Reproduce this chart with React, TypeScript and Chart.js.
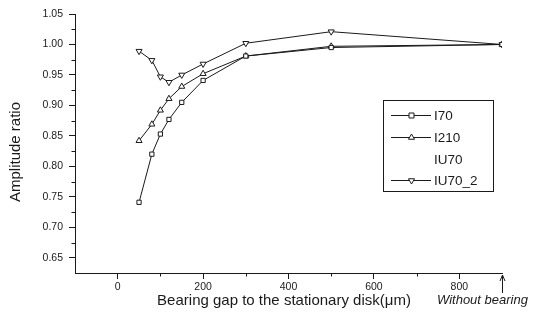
import React, { useEffect, useRef } from "react";
import { Chart, registerables } from "chart.js";

Chart.register(...registerables);

const gaps = [50, 80, 100, 120, 150, 200, 300, 500, 900];
const I70 = [0.741, 0.82, 0.853, 0.877, 0.905, 0.941, 0.981, 0.995, 1.0];
const I210 = [0.842, 0.869, 0.892, 0.911, 0.931, 0.952, 0.981, 0.997, 1.0];
const IU70: number[] = [];
const IU70_2 = [0.989, 0.974, 0.947, 0.938, 0.95, 0.968, 1.002, 1.021, 1.0];

const xTicks = [0, 200, 400, 600, 800];
const xMinorTicks = [100, 300, 500, 700];
const yTicks = [0.65, 0.7, 0.75, 0.8, 0.85, 0.9, 0.95, 1.0, 1.05];
const yMinorTicks = [0.675, 0.725, 0.775, 0.825, 0.875, 0.925, 0.975, 1.025];

const seriesNames = ["I70", "I210", "IU70", "IU70_2"];
const xTitle = "Bearing gap to the stationary disk(\u03bcm)";
const yTitle = "Amplitude ratio";
const endLabel = "Without bearing";

const INK = "#1a1a1a";
const FONT = "'Liberation Sans', Arial, sans-serif";

const pts = (ys: number[]) => ys.map((v, i) => ({ x: gaps[i], y: v }));

function marker(ctx: CanvasRenderingContext2D, style: string, rot: number, cx: number, cy: number) {
  ctx.beginPath();
  if (style === "rect") {
    ctx.rect(cx - 2.5, cy - 2.5, 5, 5);
  } else if (style === "triangle") {
    const r = 3.5;
    const s = rot === 180 ? -1 : 1;
    ctx.moveTo(cx, cy - s * r);
    ctx.lineTo(cx - r * 0.87, cy + s * r * 0.5);
    ctx.lineTo(cx + r * 0.87, cy + s * r * 0.5);
    ctx.closePath();
  }
  ctx.fillStyle = "#fff";
  ctx.fill();
  ctx.strokeStyle = INK;
  ctx.lineWidth = 1;
  ctx.stroke();
}

const overlay = {
  id: "overlay",
  afterDraw(chart: any) {
    const { ctx, chartArea, scales } = chart;
    const x = scales.x;
    const y = scales.y;
    ctx.save();
    ctx.strokeStyle = INK;
    ctx.fillStyle = INK;
    ctx.lineWidth = 1;
    yMinorTicks.forEach((v) => {
      const py = Math.round(y.getPixelForValue(v)) + 0.5;
      ctx.beginPath();
      ctx.moveTo(chartArea.left - 3.5, py);
      ctx.lineTo(chartArea.left, py);
      ctx.stroke();
    });
    xMinorTicks.forEach((v) => {
      const px = Math.round(x.getPixelForValue(v)) + 0.5;
      ctx.beginPath();
      ctx.moveTo(px, chartArea.bottom);
      ctx.lineTo(px, chartArea.bottom + 3.5);
      ctx.stroke();
    });
    const ax = Math.round(x.getPixelForValue(900)) + 0.5;
    ctx.beginPath();
    ctx.moveTo(ax, chartArea.bottom + 2);
    ctx.lineTo(ax, chartArea.bottom + 20);
    ctx.stroke();
    ctx.beginPath();
    ctx.moveTo(ax - 2.5, chartArea.bottom + 8);
    ctx.lineTo(ax, chartArea.bottom + 2);
    ctx.lineTo(ax + 2.5, chartArea.bottom + 8);
    ctx.stroke();

    ctx.font = `15px ${FONT}`;
    ctx.textAlign = "center";
    ctx.textBaseline = "middle";
    ctx.fillText(xTitle, 284, 301);
    ctx.font = `italic 13px ${FONT}`;
    ctx.textAlign = "left";
    ctx.fillText(endLabel, 437, 300);
    ctx.save();
    ctx.translate(16, 152);
    ctx.rotate(-Math.PI / 2);
    ctx.font = `15px ${FONT}`;
    ctx.textAlign = "center";
    ctx.fillText(yTitle, 0, 0);
    ctx.restore();

    const bx = 383.5, by = 100.5, bw = 110, bh = 91;
    ctx.strokeStyle = INK;
    ctx.strokeRect(bx, by, bw, bh);
    const rows = [115.5, 137.5, 159.5, 180.5];
    chart.data.datasets.forEach((ds: any, i: number) => {
      const ry = rows[i];
      if (ds.data.length) {
        ctx.beginPath();
        ctx.moveTo(391, ry);
        ctx.lineTo(431, ry);
        ctx.strokeStyle = INK;
        ctx.lineWidth = 1;
        ctx.stroke();
        marker(ctx, ds.pointStyle, ds.pointRotation || 0, 411.5, ry);
      }
      ctx.font = `13.5px ${FONT}`;
      ctx.textAlign = "left";
      ctx.textBaseline = "middle";
      ctx.fillStyle = INK;
      ctx.fillText(ds.label, 434, ry + 0.5);
    });
    ctx.restore();
  },
};

export default function App() {
  const ref = useRef<HTMLCanvasElement | null>(null);
  useEffect(() => {
    document.body.style.margin = "0";
    const canvas = ref.current!;
    const common = {
      borderColor: INK,
      backgroundColor: "#ffffff",
      borderWidth: 1,
      pointRadius: 3,
      pointBorderWidth: 1,
      pointBackgroundColor: "#ffffff",
      pointBorderColor: INK,
      tension: 0,
    };
    const chart = new Chart(canvas, {
      type: "line",
      data: {
        datasets: [
          { ...common, label: seriesNames[0], data: pts(I70), pointStyle: "rect", pointRadius: 3 },
          { ...common, label: seriesNames[1], data: pts(I210), pointStyle: "triangle", pointRadius: 3.5 },
          { ...common, label: seriesNames[2], data: pts(IU70), pointStyle: "circle" },
          { ...common, label: seriesNames[3], data: pts(IU70_2), pointStyle: "triangle", pointRotation: 180, pointRadius: 3.5 },
        ],
      },
      options: {
        animation: false,
        responsive: false,
        devicePixelRatio: 1,
        layout: { padding: { left: 0, top: 14, right: 31, bottom: 0 } },
        plugins: { legend: { display: false }, tooltip: { enabled: false }, title: { display: false } },
        scales: {
          x: {
            type: "linear",
            min: -100,
            max: 900,
            afterFit: (s: any) => { s.height = 47; },
            afterBuildTicks: (s: any) => { s.ticks = xTicks.map((v) => ({ value: v })); },
            grid: { display: true, drawOnChartArea: false, drawTicks: true, tickLength: 6, color: INK },
            border: { display: true, color: INK, width: 1 },
            ticks: { font: { family: FONT, size: 10.5 }, color: INK, padding: 2, maxRotation: 0, callback: (v: any) => String(v) },
          },
          y: {
            type: "linear",
            min: 0.625,
            max: 1.05,
            afterFit: (s: any) => { s.width = 75; },
            afterBuildTicks: (s: any) => { s.ticks = yTicks.map((v) => ({ value: v })); },
            grid: { display: true, drawOnChartArea: false, drawTicks: true, tickLength: 6, color: INK },
            border: { display: true, color: INK, width: 1 },
            ticks: { font: { family: FONT, size: 10.5 }, color: INK, padding: 6, callback: (v: any) => Number(v).toFixed(2) },
          },
        },
      },
      plugins: [overlay],
    } as any);
    return () => chart.destroy();
  }, []);
  return <canvas ref={ref} width={533} height={320} style={{ display: "block" }} />;
}
